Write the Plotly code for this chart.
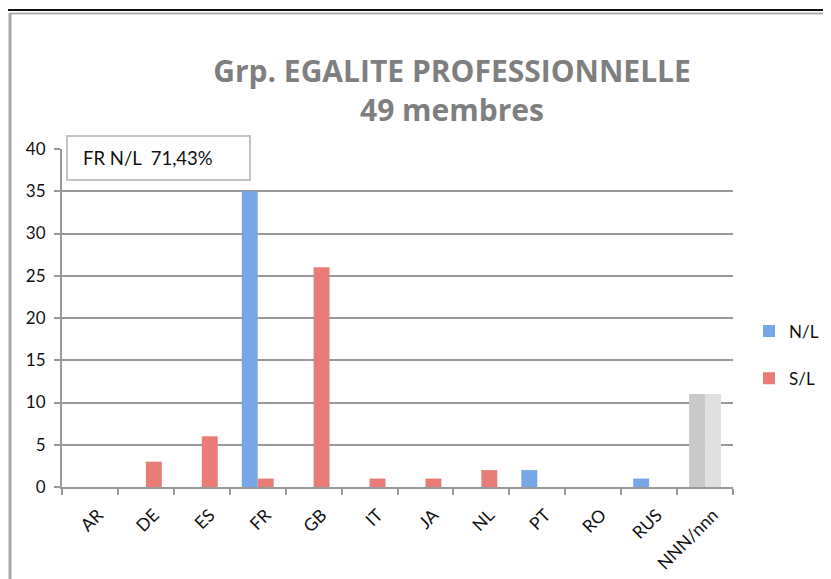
import plotly.graph_objects as go

categories = ["AR", "DE", "ES", "FR", "GB", "IT", "JA", "NL", "PT", "RO", "RUS", "NNN/nnn"]
nl_values = [0, 0, 0, 35, 0, 0, 0, 0, 2, 0, 1, 11]
sl_values = [0, 3, 6, 1, 26, 1, 1, 2, 0, 0, 0, 11]
y_ticks = [0, 5, 10, 15, 20, 25, 30, 35, 40]
title_lines = ["Grp. EGALITE PROFESSIONNELLE", "49 membres"]
box_text = "FR N/L  71,43%"

OFF = 8  # page body margin
W, H = 831 - OFF, 579 - OFF
L, R, T, B = 62, 733, 149, 487  # target plot area in screenshot pixels

def px(xp):
    return (xp - L) / (R - L)

def py(yp):
    return (B - yp) / (B - T)

blue = "#75a7e8"
red = "#ea7c78"
grey_dark = "#c9c9c9"
grey_light = "#e0e0e0"

nl_colors = [blue] * (len(categories) - 1) + [grey_dark]
sl_colors = [red] * (len(categories) - 1) + [grey_light]

fig = go.Figure()
fig.add_trace(go.Bar(x=categories, y=nl_values, name="N/L", marker=dict(color=nl_colors, line=dict(width=0)),
                     legendgroup="a"))
fig.add_trace(go.Bar(x=categories, y=sl_values, name="S/L", marker=dict(color=sl_colors, line=dict(width=0)),
                     legendgroup="b"))

font = "Lato, Open Sans, sans-serif"

shapes = [
    dict(type="line", xref="paper", yref="paper", x0=px(-20), x1=px(840), y0=py(10), y1=py(10),
         line=dict(color="#111111", width=2)),
    dict(type="line", xref="paper", yref="paper", x0=px(9), x1=px(840), y0=py(13.5), y1=py(13.5),
         line=dict(color="#b0b0b0", width=2)),
    dict(type="line", xref="paper", yref="paper", x0=px(10), x1=px(10), y0=py(13), y1=py(600),
         line=dict(color="#a8a8a8", width=3)),
    dict(type="rect", xref="paper", yref="paper", x0=px(67), x1=px(250), y0=py(136), y1=py(180),
         line=dict(color="#c4c4c4", width=2), fillcolor="white", layer="above"),
]

annotations = [
    dict(xref="paper", yref="paper", x=px(81), y=py(158), xanchor="left", yanchor="middle",
         text=box_text, showarrow=False, font=dict(family=font, size=18.5, color="#111111")),
]

fig.update_layout(
    width=W, height=H,
    margin=dict(l=L - OFF, r=W - (R - OFF), t=T - OFF, b=H - (B - OFF), autoexpand=False),
    paper_bgcolor="white", plot_bgcolor="white",
    barmode="group", bargap=0.43, bargroupgap=0,
    title=dict(text="<b>" + "<br>".join(title_lines) + "</b>", x=(452 - OFF) / W, xanchor="center",
               y=1 - (82 - OFF) / H, yanchor="middle",
               font=dict(family="Open Sans, sans-serif", size=30, color="#7f7f7f")),
    font=dict(family=font, size=17, color="#111111"),
    xaxis=dict(type="category", tickangle=-45, ticks="outside", ticklen=6, tickwidth=2, tickcolor="#999999",
               tickson="boundaries", showline=True, linecolor="#999999", linewidth=2, showgrid=False,
               ticklabelstandoff=9, ticklabelshift=8, automargin=False,
               tickfont=dict(family=font, size=17.5, color="#111111")),
    yaxis=dict(range=[0, 40], tickvals=y_ticks, ticks="outside", ticklen=6, tickwidth=2, tickcolor="#999999",
               showline=True, linecolor="#999999", linewidth=2, showgrid=True, gridcolor="#999999",
               gridwidth=2, zeroline=False, ticklabelstandoff=5, automargin=False,
               tickfont=dict(family=font, size=17, color="#111111")),
    legend=dict(x=px(749), xanchor="left", y=py(355), yanchor="middle", tracegroupgap=22,
                font=dict(family=font, size=17, color="#111111"), bgcolor="rgba(0,0,0,0)"),
    shapes=shapes,
    annotations=annotations,
)

fig.write_html("out.html")
